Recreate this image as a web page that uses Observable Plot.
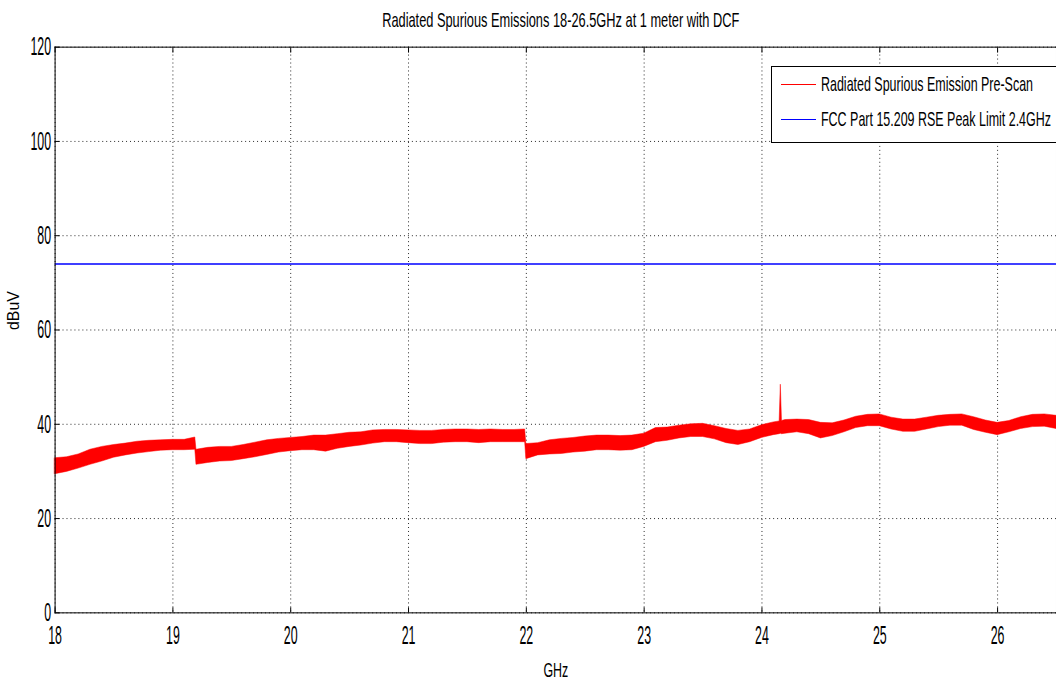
<!DOCTYPE html>
<html>
<head>
<meta charset="utf-8">
<script src="https://cdn.jsdelivr.net/npm/d3@7"></script>
<script src="https://cdn.jsdelivr.net/npm/@observablehq/plot@0.6"></script>
<style>
  html, body { margin: 0; padding: 0; background: #fff; overflow: hidden; }
  #wrap { position: relative; width: 1056px; height: 683px; overflow: hidden; }
  #legend { position: absolute; left: 771px; top: 66px; width: 300px; height: 75px;
    border: 1px solid #000; background: #fff; font-family: "Liberation Sans", Arial, sans-serif; font-size: 21px; color: #000; }
  .lrow { position: absolute; left: 0; height: 26px; display: flex; align-items: center; white-space: nowrap; }
  .lline { width: 35px; height: 0; margin-left: 9px; margin-right: 5px; flex: none; }
  .ltext { display: inline-block; transform-origin: left center; line-height: 26px; }
</style>
</head>
<body>
<div id="wrap">
  <div id="chart"></div>
  <div id="legend"></div>
</div>
<script>
const title = "Radiated Spurious Emissions 18-26.5GHz at 1 meter with DCF";
const xLabel = "GHz";
const yLabel = "dBuV";
const xTicks = [18, 19, 20, 21, 22, 23, 24, 25, 26];
const yTicks = [0, 20, 40, 60, 80, 100, 120];
const seriesNames = ["Radiated Spurious Emission Pre-Scan", "FCC Part 15.209 RSE Peak Limit 2.4GHz"];
const seriesColors = ["#ff0000", "#0000ff"];

// Pre-scan trace envelope: frequency (GHz), lower and upper edge (dBuV)
const freq = [18.00,18.10,18.20,18.30,18.40,18.50,18.60,18.70,18.80,18.90,19.00,19.10,19.19,
  19.20,19.30,19.40,19.50,19.60,19.70,19.80,19.90,20.00,20.10,20.20,20.30,20.40,20.50,20.60,20.70,20.80,20.90,
  21.00,21.10,21.20,21.30,21.40,21.50,21.60,21.70,21.80,21.90,21.99,
  22.00,22.10,22.20,22.30,22.40,22.50,22.60,22.70,22.80,22.90,23.00,23.10,23.20,23.30,23.40,23.50,23.60,23.70,23.80,23.90,
  24.00,24.10,24.15,24.16,24.17,24.20,24.30,24.40,24.50,24.60,24.70,24.80,24.90,
  25.00,25.10,25.20,25.30,25.40,25.50,25.60,25.70,25.80,25.90,26.00,26.10,26.20,26.30,26.40,26.50];
const lo = [29.4,29.9,30.6,31.4,32.1,32.9,33.4,33.8,34.1,34.4,34.5,34.5,34.6,
  31.4,31.8,32.1,32.2,32.6,33.0,33.5,34.0,34.3,34.5,34.5,34.2,34.8,35.2,35.5,35.9,36.2,36.2,
  36.0,35.8,35.8,36.1,36.2,36.2,36.0,36.2,36.2,36.2,36.2,
  32.6,33.4,33.6,33.7,34.0,34.2,34.5,34.5,34.4,34.5,35.2,36.2,36.5,37.0,37.3,37.3,36.8,36.0,35.6,36.2,
  37.1,37.7,37.9,38.0,37.9,38.0,38.3,37.9,37.0,37.5,38.3,39.2,39.6,
  39.6,38.9,38.4,38.4,38.9,39.4,39.7,39.7,38.8,38.2,37.7,38.3,39.0,39.4,39.5,39.0];
const hi = [32.8,33.0,33.6,34.6,35.2,35.6,35.9,36.3,36.5,36.6,36.7,36.7,37.2,
  34.6,35.0,35.2,35.2,35.6,36.1,36.6,36.9,37.1,37.3,37.6,37.6,37.9,38.2,38.3,38.7,38.8,38.8,
  38.7,38.6,38.6,38.8,38.9,38.9,38.8,38.9,38.8,38.8,38.9,
  35.8,36.0,36.6,36.9,37.1,37.4,37.6,37.6,37.5,37.6,38.0,39.2,39.3,39.7,40.0,40.1,39.6,39.0,38.6,38.9,
  39.8,40.4,40.6,48.4,40.7,40.9,41.0,40.9,40.3,40.2,40.8,41.6,42.0,
  42.1,41.4,41.0,41.0,41.4,41.8,42.0,42.1,41.5,40.8,40.3,40.7,41.5,42.0,42.1,41.8];

// Limit line
const limitFreq = [18, 26.5];
const limitValue = [74, 74];

const font = '"Liberation Sans", Arial, sans-serif';
const trace = freq.map((f, i) => ({f, lo: lo[i], hi: hi[i]}));
const limit = limitFreq.map((f, i) => ({f, v: limitValue[i]}));

const chart = Plot.plot({
  width: 1064,
  height: 683,
  marginLeft: 55,
  marginRight: 0,
  marginTop: 47,
  marginBottom: 66,
  style: {fontFamily: font, fontSize: "26px", color: "#000", background: "#fff", overflow: "visible"},
  x: {domain: [18, 26.5]},
  y: {domain: [0, 120]},
  marks: [
    Plot.gridX(xTicks, {stroke: "#000", strokeOpacity: 0.85, strokeDasharray: "1,3"}),
    Plot.gridY(yTicks, {stroke: "#000", strokeOpacity: 0.85, strokeDasharray: "1,3"}),
    Plot.areaY(trace, {x: "f", y1: "lo", y2: "hi", fill: seriesColors[0], stroke: seriesColors[0], strokeWidth: 0.5, curve: "linear"}),
    Plot.lineY(limit, {x: "f", y: "v", stroke: seriesColors[1], strokeWidth: 1.3}),
    Plot.frame({stroke: "#000", strokeWidth: 1}),
    // inward ticks
    Plot.axisX({ticks: xTicks, anchor: "bottom", tickSize: 5, dy: -5, tickFormat: () => "", label: null}),
    Plot.axisX({ticks: xTicks, anchor: "top", tickSize: 5, dy: 5, tickFormat: () => "", label: null}),
    Plot.axisY({ticks: yTicks, anchor: "left", tickSize: 5, dx: 5, tickFormat: () => "", label: null}),
    // tick labels
    Plot.axisX({ticks: xTicks, anchor: "bottom", tickSize: 0, tickPadding: 13, fontSize: 26, label: null}),
    Plot.axisY({ticks: yTicks, anchor: "left", tickSize: 0, tickPadding: 4, fontSize: 26, label: null}),
    Plot.text([title], {frameAnchor: "top", dy: -35, dx: 5, fontSize: 20, text: d => d}),
    Plot.text([xLabel], {frameAnchor: "bottom", dy: 65, fontSize: 21, text: d => d}),
    Plot.text([yLabel], {frameAnchor: "left", dx: -41, rotate: -90, fontSize: 16, text: d => d})
  ]
});
document.getElementById("chart").appendChild(chart);

// Condense texts horizontally (narrow, tall MATLAB-style glyphs)
function anchorOf(el) {
  let n = el;
  while (n && n.getAttribute) {
    const a = n.getAttribute("text-anchor");
    if (a) return a;
    n = n.parentNode;
  }
  return "start";
}
chart.querySelectorAll("text").forEach(el => {
  const t = el.textContent;
  if (!t || t === yLabel) return;
  const b = el.getBBox();
  if (!b.width) return;
  let s = 0.48;
  if (t === title) s = 360 / b.width;
  else if (t === xLabel) s = 25 / b.width;
  const a = anchorOf(el);
  const ax = a === "end" ? b.x + b.width : a === "middle" ? b.x + b.width / 2 : b.x;
  const prev = el.getAttribute("transform") || "";
  el.setAttribute("transform", `${prev} translate(${ax},0) scale(${s},1) translate(${-ax},0)`.trim());
});

const legend = document.getElementById("legend");
const lineCenters = [17, 52];
const spans = [];
seriesNames.forEach((name, i) => {
  const row = document.createElement("div");
  row.className = "lrow";
  row.style.top = (lineCenters[i] - 13) + "px";
  const ln = document.createElement("div");
  ln.className = "lline";
  ln.style.borderTop = "1.5px solid " + seriesColors[i];
  const tx = document.createElement("span");
  tx.className = "ltext";
  tx.textContent = name;
  row.appendChild(ln);
  row.appendChild(tx);
  legend.appendChild(row);
  spans.push(tx);
});
const sLeg = 212 / spans[0].getBoundingClientRect().width;
spans.forEach(sp => { sp.style.transform = `scaleX(${sLeg})`; });
</script>
</body>
</html>
